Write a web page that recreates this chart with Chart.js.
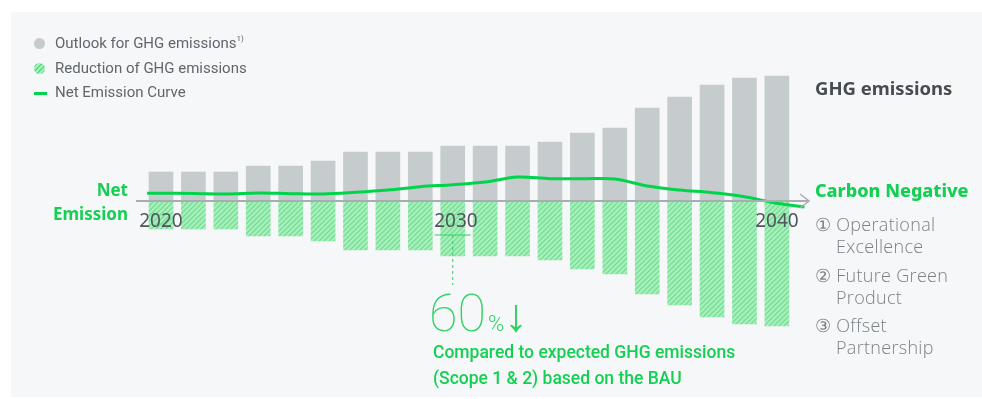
<!DOCTYPE html>
<html>
<head>
<meta charset="utf-8">
<script src="https://cdn.jsdelivr.net/npm/chart.js@4.4.1/dist/chart.umd.min.js"></script>
<style>
  html, body { margin: 0; padding: 0; background: #fff; }
  .wrap { position: relative; width: 982px; height: 399px; overflow: hidden; font-family: Roboto, "Noto Sans", sans-serif; }
  .panel { position: absolute; left: 11px; top: 12px; width: 971px; height: 385px; background: #f6f7f9; }
  canvas { position: absolute; left: 0; top: 0; }
  .t { position: absolute; white-space: nowrap; }
  .legend { font-size: 15px; color: #5f666c; }
  .legend .dot { position: absolute; left: -21px; top: 4px; width: 11px; height: 11px; border-radius: 50%; }
  .legend sup { font-size: 8px; vertical-align: 7px; }
  .green { color: #14d052; }
  .side { font-family: "Open Sans", "Noto Sans", sans-serif; font-weight: 300; font-size: 18px; letter-spacing: 0.3px; color: #7a8287; }
</style>
</head>
<body>
<div class="wrap">
  <div class="panel"></div>
  <canvas id="chart" width="982" height="399"></canvas>

  <div class="t legend" style="left:55px; top:34px;"><span class="dot" style="background:#c6cbce;"></span>Outlook for GHG emissions<sup>1)</sup></div>
  <div class="t legend" style="left:55px; top:59px;"><span class="dot" style="background:repeating-linear-gradient(135deg,#a8eebb 0 2px,#5fdc83 2px 3.5px);"></span>Reduction of GHG emissions</div>
  <div class="t legend" style="left:55px; top:83px;"><span class="dot" style="left:-21px; top:9px; width:13px; height:3px; border-radius:0; background:#00d44a;"></span>Net Emission Curve</div>

  <div class="t green" style="right:854px; top:178px; font-family:'Noto Sans',sans-serif; font-weight:700; font-size:17px; text-align:right;">Net</div>
  <div class="t green" style="right:854px; top:202px; font-family:'Noto Sans',sans-serif; font-weight:700; font-size:17px; text-align:right;">Emission</div>

  <div class="t" style="left:815px; top:75px; font-family:'Noto Sans',sans-serif; font-weight:700; font-size:18.5px; color:#474c52;">GHG emissions</div>
  <div class="t green" style="left:815px; top:178px; font-family:'Noto Sans',sans-serif; font-weight:800; font-size:18px;">Carbon Negative</div>
  <div class="t side" style="left:815px; top:212px;">① Operational</div>
  <div class="t side" style="left:836px; top:234px;">Excellence</div>
  <div class="t side" style="left:815px; top:263px;">② Future Green</div>
  <div class="t side" style="left:836px; top:285px;">Product</div>
  <div class="t side" style="left:815px; top:313px;">③ Offset</div>
  <div class="t side" style="left:836px; top:335px;">Partnership</div>

  <div class="t" style="left:429px; top:283px; color:#2fd263; font-family:Roboto,sans-serif;">
    <span style="font-size:52px; font-weight:100;">60</span><span style="font-size:22px; font-weight:300; margin-left:2px;">%</span><span style="font-size:46px; font-weight:100;">↓</span>
  </div>
  <div class="t green" style="left:433px; top:342px; font-size:17.5px; font-weight:500;">Compared to expected GHG emissions</div>
  <div class="t green" style="left:433px; top:368px; font-size:17.5px; font-weight:500;">(Scope 1 &amp; 2) based on the BAU</div>
</div>

<script>
// bar positions 0..19 (arbitrary units, no y axis shown)
const barIndex = [0, 1, 2, 3, 4, 5, 6, 7, 8, 9, 10, 11, 12, 13, 14, 15, 16, 17, 18, 19];
const outlook = [29, 29, 29, 35, 35, 40, 49, 49, 49, 55, 55, 55, 59, 68, 73, 93, 104, 116, 123, 125];
const reduction = [-28, -28, -28, -35, -35, -40, -49, -49, -49, -55, -55, -55, -59, -68, -73, -93, -104, -116, -123, -125];

// net emission curve, starts a bit left of the first bar and ends right of the last
const netX = [-0.43, 0, 1, 2, 3, 4, 5, 6, 7, 8, 9, 10, 11, 12, 13, 14, 15, 16, 17, 18, 19, 19.85];
const netY = [7.7, 7.7, 7.5, 7, 8, 7.3, 7, 8.7, 11, 14.3, 16.3, 19, 24, 22.3, 22.3, 22, 15, 11, 8.3, 4.3, -2.3, -6];

const tickPositions = [0, 9.1, 19];
const tickLabels = ["2020", "2030", "2040"];

// 60% callout marker sits on the 2030 bar
const calloutX = 9;
const calloutY = -34;
const calloutBottom = -84;

const ctx = document.getElementById("chart").getContext("2d");

const makeHatch = () => {
  const c = document.createElement("canvas");
  c.width = 5;
  c.height = 5;
  const g = c.getContext("2d");
  g.fillStyle = "#abefbe";
  g.fillRect(0, 0, 5, 5);
  g.strokeStyle = "#72df92";
  g.lineWidth = 1.3;
  g.beginPath();
  g.moveTo(0, 5);
  g.lineTo(5, 0);
  g.moveTo(-1, 1);
  g.lineTo(1, -1);
  g.moveTo(4, 6);
  g.lineTo(6, 4);
  g.stroke();
  return ctx.createPattern(c, "repeat");
};

const extras = {
  id: "extras",
  afterDraw(chart) {
    const { ctx, chartArea, scales } = chart;
    const x = scales.x;
    const y = scales.y;
    const y0 = y.getPixelForValue(0);

    // arrow head at the end of the baseline
    ctx.save();
    ctx.strokeStyle = "#a8adb1";
    ctx.lineWidth = 1.5;
    ctx.beginPath();
    ctx.moveTo(chartArea.right - 8, y0 - 7);
    ctx.lineTo(chartArea.right + 1, y0);
    ctx.lineTo(chartArea.right - 8, y0 + 7);
    ctx.stroke();

    // callout lines
    const cx = x.getPixelForValue(calloutX);
    const cy = y.getPixelForValue(calloutY);
    ctx.strokeStyle = "#2fd263";
    ctx.lineWidth = 1;
    ctx.beginPath();
    ctx.moveTo(cx - 18, cy);
    ctx.lineTo(cx + 18, cy);
    ctx.stroke();
    ctx.setLineDash([3, 3]);
    ctx.beginPath();
    ctx.moveTo(cx, cy);
    ctx.lineTo(cx, y.getPixelForValue(calloutBottom));
    ctx.stroke();
    ctx.restore();
  },
};

new Chart(ctx, {
  data: {
    datasets: [
      {
        type: "line",
        label: "Net Emission Curve",
        data: netX.map((v, i) => ({ x: v, y: netY[i] })),
        borderColor: "#00d44a",
        borderWidth: 3,
        pointRadius: 0,
        tension: 0.35,
        fill: false,
        clip: false,
        order: 0,
      },
      {
        type: "bar",
        label: "Outlook for GHG emissions",
        data: barIndex.map((v, i) => ({ x: v, y: outlook[i] })),
        backgroundColor: "#c6cbce",
        barThickness: 24,
        grouped: false,
        order: 1,
      },
      {
        type: "bar",
        label: "Reduction of GHG emissions",
        data: barIndex.map((v, i) => ({ x: v, y: reduction[i] })),
        backgroundColor: makeHatch(),
        barThickness: 24,
        grouped: false,
        order: 1,
      },
    ],
  },
  options: {
    responsive: false,
    animation: false,
    layout: { padding: { left: 137, right: 174, top: 61, bottom: 58 } },
    plugins: { legend: { display: false }, tooltip: { enabled: false } },
    scales: {
      x: {
        type: "linear",
        min: -0.74,
        max: 19.96,
        offset: false,
        position: { y: 0 },
        grid: { display: false, offset: false },
        border: { display: true, color: "#a8adb1", width: 2, z: 1 },
        afterBuildTicks: (axis) => {
          axis.ticks = tickPositions.map((v) => ({ value: v }));
        },
        ticks: {
          z: 1,
          padding: 1,
          autoSkip: false,
          maxRotation: 0,
          color: "#50565c",
          font: { family: "'Noto Sans', sans-serif", size: 19 },
          callback: (v, i) => tickLabels[i],
        },
      },
      y: {
        display: false,
        min: -140,
        max: 140,
      },
    },
  },
  plugins: [extras],
});
</script>
</body>
</html>
